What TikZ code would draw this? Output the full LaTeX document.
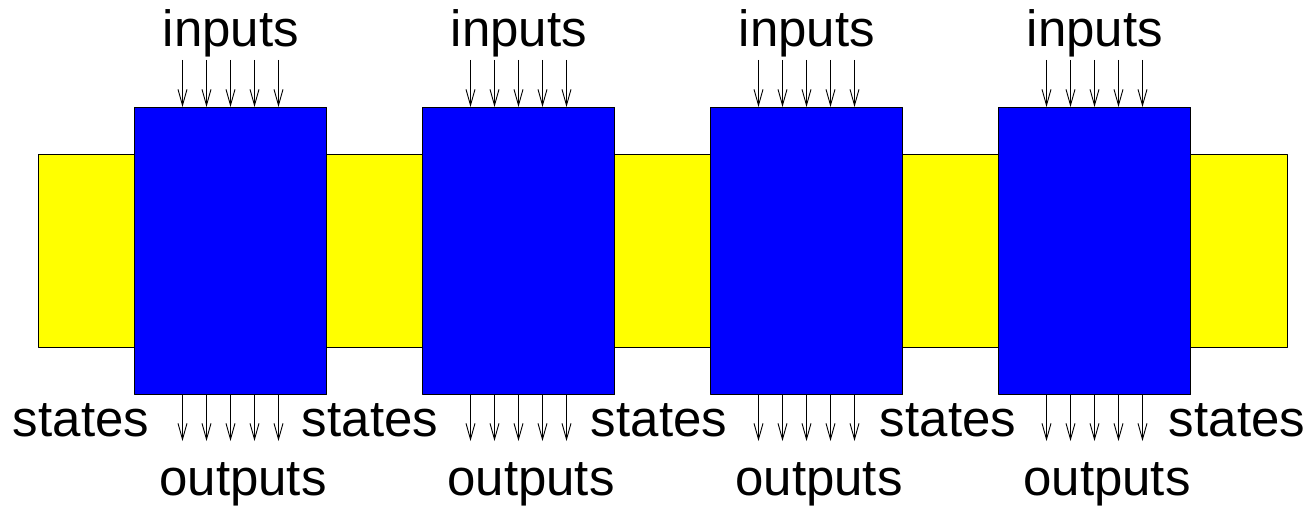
\documentclass[tikz,border=0pt]{standalone}
\usepackage{fontspec}
\setmainfont{Liberation Sans}
\usetikzlibrary{arrows.meta}
\definecolor{stateyellow}{RGB}{255,255,0}
\definecolor{blockblue}{RGB}{0,0,255}
\begin{document}
\begin{tikzpicture}[x=1pt, y=-1pt, >={Straight Barb[length=16pt,width=9pt]}, line join=round,
    lbl/.style={font=\fontsize{51}{61}\selectfont, inner sep=0pt, anchor=base},
    flow/.style={->, line width=0.9pt},
    blockbox/.style={draw, fill=blockblue, line width=1pt, minimum width=192pt, minimum height=287pt, inner sep=0pt, anchor=north west}]
  \useasboundingbox (0,0) rectangle (1315,508);
  % state strip
  \draw[fill=stateyellow, line width=1pt] (38,155) rectangle (1287,347);
  \foreach \i in {0,...,3} {
    \node[blockbox] (box\i) at (134+288*\i,107) {};
    \node[lbl] (inputs\i) at (231+288*\i,47) {inputs};
    \node[lbl] (outputs\i) at (243+288*\i,495) {outputs};
    \foreach \k in {-2,...,2} {
      \coordinate (in\i\k) at ([xshift=\k*24pt, yshift=47pt]box\i.north);
      \coordinate (out\i\k) at ([xshift=\k*24pt, yshift=-46pt]box\i.south);
      \draw[flow] (in\i\k) -- (in\i\k |- box\i.north);
      \draw[flow] (out\i\k |- box\i.south) -- (out\i\k);
    }
  }
  \foreach \j in {0,...,4}
    \node[lbl] (states\j) at (81+289*\j,436) {states};
\end{tikzpicture}
\end{document}
